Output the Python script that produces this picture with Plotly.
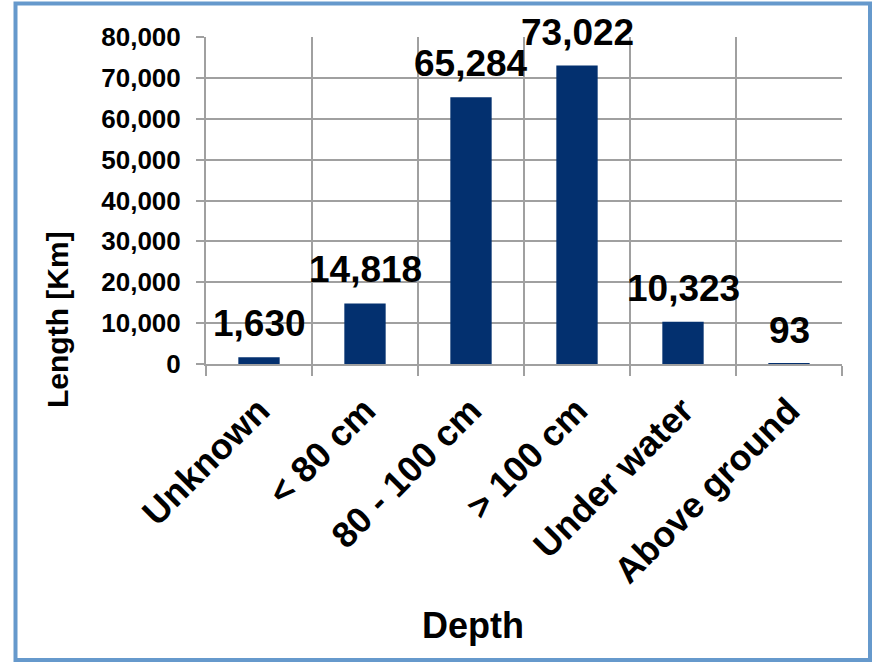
import plotly.graph_objects as go

categories = ["Unknown", "< 80 cm", "80 - 100 cm", "> 100 cm", "Under water", "Above ground"]
lengths_km = [1630, 14818, 65284, 73022, 10323, 93]
y_tick_values = [0, 10000, 20000, 30000, 40000, 50000, 60000, 70000, 80000]

FONT = "Liberation Sans, Arial, sans-serif"
BAR_COLOR = "#03306F"
GRID = "#A0A0A0"

W, H = 875, 663
L, R, T, B = 206, 33, 37, 299
PW, PH = W - L - R, H - T - B


def px_to_paper_x(px):
    return (px - L) / PW


def px_to_paper_y(py):
    return (H - B - py) / PH


fig = go.Figure()
fig.add_trace(go.Bar(
    x=categories,
    y=lengths_km,
    width=0.39,
    marker=dict(color=BAR_COLOR, line=dict(width=0)),
    hoverinfo="x+y",
))

annotations = []
for c, v in zip(categories, lengths_km):
    annotations.append(dict(
        x=c, y=v, xref="x", yref="y",
        text=f"{v:,}", showarrow=False,
        yanchor="bottom", yshift=11,
        font=dict(family=FONT, size=37, color="black", weight="bold"),
    ))

annotations.append(dict(
    x=px_to_paper_x(57), y=px_to_paper_y(320), xref="paper", yref="paper",
    text="Length [Km]", textangle=-90, showarrow=False,
    xanchor="center", yanchor="middle",
    font=dict(family=FONT, size=30, color="black", weight="bold"),
))
annotations.append(dict(
    x=px_to_paper_x(473), y=px_to_paper_y(625), xref="paper", yref="paper",
    text="Depth", showarrow=False,
    xanchor="center", yanchor="middle",
    font=dict(family=FONT, size=36, color="black", weight="bold"),
))

fig.update_layout(
    width=W, height=H,
    margin=dict(l=L, r=R, t=T, b=B, autoexpand=False),
    paper_bgcolor="white", plot_bgcolor="white",
    showlegend=False,
    annotations=annotations,
    shapes=[dict(
        type="rect", xref="paper", yref="paper",
        x0=px_to_paper_x(15.5), x1=px_to_paper_x(870),
        y0=px_to_paper_y(660), y1=px_to_paper_y(3.5),
        line=dict(color="#6699CC", width=4), fillcolor="rgba(0,0,0,0)",
        layer="below",
    )],
)

fig.update_xaxes(
    type="category",
    tickson="boundaries",
    ticks="outside", ticklen=10, tickwidth=2, tickcolor=GRID,
    showgrid=True, gridcolor=GRID, gridwidth=2,
    showline=True, linecolor=GRID, linewidth=2, mirror=False,
    tickangle=-45,
    ticklabelstandoff=9,
    tickfont=dict(family=FONT, size=36, color="black", weight="bold"),
)
fig.update_yaxes(
    range=[0, 80000],
    tickvals=y_tick_values,
    tickformat=",",
    ticks="outside", ticklen=8, tickwidth=2, tickcolor=GRID,
    showgrid=True, gridcolor=GRID, gridwidth=2,
    showline=True, linecolor=GRID, linewidth=2,
    zeroline=False,
    ticklabelstandoff=10,
    tickfont=dict(family=FONT, size=26, color="black", weight="bold"),
)

fig.write_html("out.html")
